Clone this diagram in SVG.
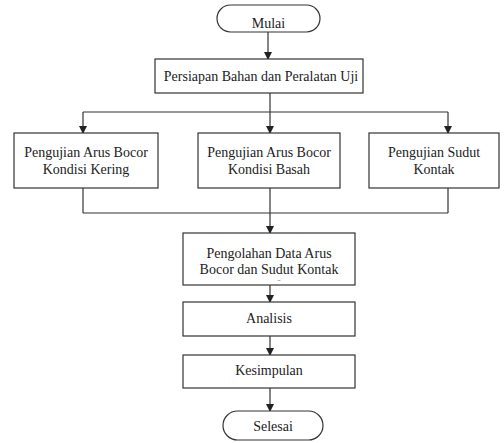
<svg xmlns="http://www.w3.org/2000/svg" width="504" height="443" viewBox="0 0 504 443">
<defs>
<marker id="ah" markerWidth="8" markerHeight="8" refX="7" refY="4" orient="auto" markerUnits="userSpaceOnUse">
<path d="M0,0 L8,4 L0,8 Z" fill="#222"/>
</marker>
</defs>
<rect width="504" height="443" fill="#fff"/>
<g id="connectors" fill="none" stroke="#333" stroke-width="1.2">
<line x1="268" y1="32" x2="268" y2="59" marker-end="url(#ah)"/>
<line x1="270" y1="93" x2="270" y2="112"/>
<line x1="83" y1="112" x2="448" y2="112"/>
<line x1="83" y1="112" x2="83" y2="133" marker-end="url(#ah)"/>
<line x1="270" y1="112" x2="270" y2="133" marker-end="url(#ah)"/>
<line x1="448" y1="112" x2="448" y2="133" marker-end="url(#ah)"/>
<line x1="83" y1="188" x2="83" y2="213"/>
<line x1="270" y1="188" x2="270" y2="213"/>
<line x1="448" y1="188" x2="448" y2="213"/>
<line x1="83" y1="213" x2="448" y2="213"/>
<line x1="270" y1="213" x2="270" y2="233" marker-end="url(#ah)"/>
<line x1="270" y1="285" x2="270" y2="302" marker-end="url(#ah)"/>
<line x1="270" y1="336" x2="270" y2="355" marker-end="url(#ah)"/>
<line x1="270" y1="388" x2="270" y2="411" marker-end="url(#ah)"/>
</g>
<g id="nodes" fill="#fff" stroke="#333" stroke-width="1.2">
<g id="mulai">
<rect x="217" y="5" width="103" height="27" rx="13.5"/>
<text font-family="Liberation Serif" font-size="14" fill="#222" stroke="none" text-anchor="middle" x="268.5" y="28">Mulai</text>
</g>
<g id="persiapan">
<rect x="155" y="59" width="208" height="34"/>
<text font-family="Liberation Serif" font-size="14" fill="#222" stroke="none" text-anchor="middle" x="261" y="81">Persiapan Bahan dan Peralatan Uji</text>
</g>
<g id="kering">
<rect x="14" y="133" width="144" height="55"/>
<text font-family="Liberation Serif" font-size="14" fill="#222" stroke="none" text-anchor="middle" x="86" y="157">Pengujian Arus Bocor</text>
<text font-family="Liberation Serif" font-size="14" fill="#222" stroke="none" text-anchor="middle" x="86" y="174">Kondisi Kering</text>
</g>
<g id="basah">
<rect x="198" y="133" width="142" height="55"/>
<text font-family="Liberation Serif" font-size="14" fill="#222" stroke="none" text-anchor="middle" x="269" y="157">Pengujian Arus Bocor</text>
<text font-family="Liberation Serif" font-size="14" fill="#222" stroke="none" text-anchor="middle" x="269" y="174">Kondisi Basah</text>
</g>
<g id="sudut">
<rect x="369" y="133" width="130" height="55"/>
<text font-family="Liberation Serif" font-size="14" fill="#222" stroke="none" text-anchor="middle" x="434" y="157">Pengujian Sudut</text>
<text font-family="Liberation Serif" font-size="14" fill="#222" stroke="none" text-anchor="middle" x="434" y="174">Kontak</text>
</g>
<g id="pengolahan">
<rect x="183" y="233" width="172" height="52"/>
<text font-family="Liberation Serif" font-size="14" fill="#222" stroke="none" text-anchor="middle" x="269" y="258">Pengolahan Data Arus</text>
<text font-family="Liberation Serif" font-size="14" fill="#222" stroke="none" text-anchor="middle" x="269" y="274">Bocor dan Sudut Kontak</text>
<text font-family="Liberation Serif" font-size="6" fill="#222" stroke="none" text-anchor="middle" x="279" y="281">..</text>
</g>
<g id="analisis">
<rect x="183" y="302" width="172" height="34"/>
<text font-family="Liberation Serif" font-size="14" fill="#222" stroke="none" text-anchor="middle" x="269" y="323">Analisis</text>
</g>
<g id="kesimpulan">
<rect x="183" y="355" width="172" height="33"/>
<text font-family="Liberation Serif" font-size="14" fill="#222" stroke="none" text-anchor="middle" x="269" y="375">Kesimpulan</text>
</g>
<g id="selesai">
<rect x="223" y="411" width="100" height="29" rx="14.5"/>
<text font-family="Liberation Serif" font-size="14" fill="#222" stroke="none" text-anchor="middle" x="273" y="431">Selesai</text>
</g>
</g>
</svg>
